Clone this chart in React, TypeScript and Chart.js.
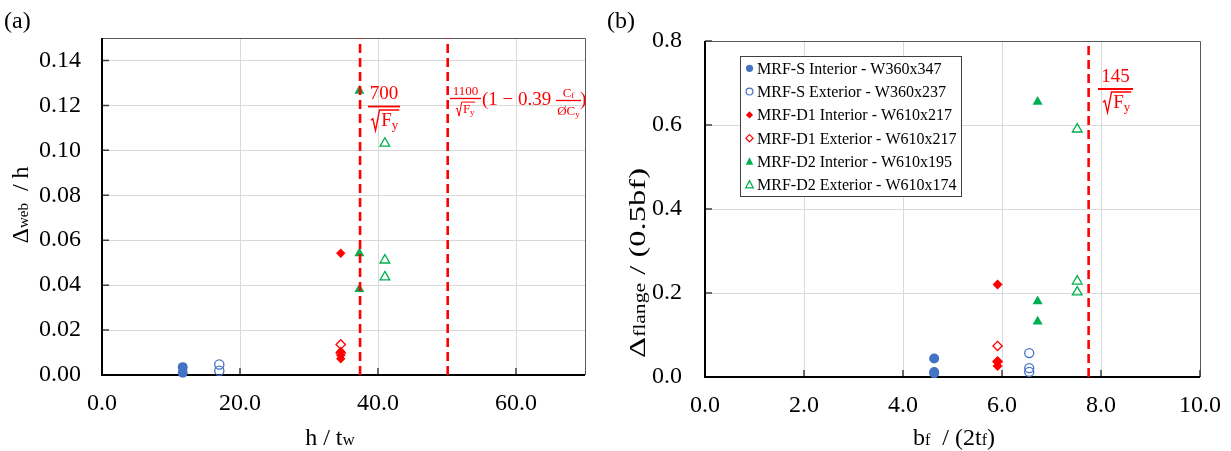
import React, { useEffect, useRef } from "react";
import { Chart, registerables } from "chart.js";

Chart.register(...registerables);

const FONT = '"Liberation Serif", "Times New Roman", serif';
const BLUE = "#4472C4";
const RED = "#FF0000";
const GREEN = "#00B050";

const seriesLabels = [
  "MRF-S Interior - W360x347",
  "MRF-S Exterior - W360x237",
  "MRF-D1 Interior - W610x217",
  "MRF-D1 Exterior - W610x217",
  "MRF-D2 Interior - W610x195",
  "MRF-D2 Exterior - W610x174",
];
const seriesColors = [BLUE, BLUE, RED, RED, GREEN, GREEN];
const seriesShapes = ["circle", "circle", "rectRot", "rectRot", "triangle", "triangle"];
const seriesFilled = [true, false, true, false, true, false];

// ---- (a) web: h/tw vs Δweb/h ----
const aSIntX = [11.7, 11.7];
const aSIntY = [0.0035, 0.001];
const aSExtX = [17.0, 17.0];
const aSExtY = [0.0047, 0.0019];
const aD1IntX = [34.6, 34.6, 34.6, 34.6];
const aD1IntY = [0.0542, 0.0105, 0.0088, 0.0072];
const aD1ExtX = [34.6, 34.6];
const aD1ExtY = [0.0136, 0.0098];
const aD2IntX = [37.3, 37.3, 37.3];
const aD2IntY = [0.1265, 0.0542, 0.0382];
const aD2ExtX = [41.0, 41.0, 41.0];
const aD2ExtY = [0.1031, 0.0511, 0.0436];
const aLimits = [37.4, 50.1];
const aXTicks = [0, 20, 40, 60];
const aYTicks = [0, 0.02, 0.04, 0.06, 0.08, 0.1, 0.12, 0.14];

// ---- (b) flange: bf/(2tf) vs Δflange/(0.5bf) ----
const bSIntX = [4.63, 4.63, 4.63];
const bSIntY = [0.044, 0.012, 0.009];
const bSExtX = [6.55, 6.55, 6.55];
const bSExtY = [0.057, 0.021, 0.012];
const bD1IntX = [5.91, 5.91, 5.91];
const bD1IntY = [0.22, 0.037, 0.026];
const bD1ExtX = [5.91, 5.91];
const bD1ExtY = [0.074, 0.037];
const bD2IntX = [6.72, 6.72, 6.72];
const bD2IntY = [0.655, 0.18, 0.132];
const bD2ExtX = [7.52, 7.52, 7.52];
const bD2ExtY = [0.59, 0.228, 0.202];
const bLimits = [7.75];
const bXTicks = [0, 2, 4, 6, 8, 10];
const bYTicks = [0, 0.2, 0.4, 0.6, 0.8];

const zip = (xs: number[], ys: number[]) => xs.map((x, i) => ({ x, y: ys[i] }));

function markerDataset(i: number, xs: number[], ys: number[], radii: number[]) {
  const filled = seriesFilled[i];
  return {
    label: seriesLabels[i],
    data: zip(xs, ys),
    pointStyle: seriesShapes[i],
    pointRadius: radii[i],
    pointBackgroundColor: filled ? seriesColors[i] : "rgba(0,0,0,0)",
    pointBorderColor: seriesColors[i],
    pointBorderWidth: filled ? 0 : 1.3,
    showLine: false,
    clip: false,
    order: 1,
  };
}

function limitDataset(v: number, yMax: number) {
  return {
    label: "limit",
    data: [
      { x: v, y: 0 },
      { x: v, y: yMax },
    ],
    showLine: true,
    borderColor: RED,
    borderWidth: 2.6,
    borderDash: [9, 5],
    pointRadius: 0,
    clip: false,
    order: 0,
  };
}

function drawRich(
  ctx: CanvasRenderingContext2D,
  parts: [string, number, number?][],
  x: number,
  y: number,
  align: string,
  target?: number
) {
  let w = 0;
  for (const [t, s] of parts) {
    ctx.font = `${s}px ${FONT}`;
    w += ctx.measureText(t).width;
  }
  const k = target ? target / w : 1;
  ctx.save();
  ctx.translate(x, y);
  ctx.scale(k, 1);
  let cx = align === "center" ? -w / 2 : align === "right" ? -w : 0;
  ctx.textAlign = "left";
  ctx.textBaseline = "alphabetic";
  for (const [t, s, dy] of parts) {
    ctx.font = `${s}px ${FONT}`;
    ctx.fillText(t, cx, dy || 0);
    cx += ctx.measureText(t).width;
  }
  ctx.restore();
  return w * k;
}

function sqrtFyWidth(ctx: CanvasRenderingContext2D, s: number) {
  ctx.font = `${s}px ${FONT}`;
  const wF = ctx.measureText("F").width;
  ctx.font = `${Math.round(s * 0.7)}px ${FONT}`;
  const wy = ctx.measureText("y").width;
  return s * 0.5 + s * 0.05 + wF + wy + s * 0.05;
}

function drawSqrtFy(ctx: CanvasRenderingContext2D, cx: number, base: number, s: number) {
  const total = sqrtFyWidth(ctx, s);
  const x = cx - total / 2;
  const rw = s * 0.5;
  ctx.font = `${s}px ${FONT}`;
  const wF = ctx.measureText("F").width;
  const top = base - s * 0.84;
  ctx.lineWidth = Math.max(1, s / 14);
  ctx.beginPath();
  ctx.moveTo(x, base - s * 0.3);
  ctx.lineTo(x + rw * 0.22, base - s * 0.38);
  ctx.lineTo(x + rw * 0.5, base + s * 0.24);
  ctx.lineTo(x + rw * 0.92, top);
  ctx.lineTo(x + total, top);
  ctx.stroke();
  ctx.font = `${s}px ${FONT}`;
  ctx.fillText("F", x + rw + s * 0.05, base);
  ctx.font = `${Math.round(s * 0.7)}px ${FONT}`;
  ctx.fillText("y", x + rw + s * 0.05 + wF, base + s * 0.16);
}

function hline(ctx: CanvasRenderingContext2D, x1: number, x2: number, y: number, w: number) {
  ctx.lineWidth = w;
  ctx.beginPath();
  ctx.moveTo(x1, y);
  ctx.lineTo(x2, y);
  ctx.stroke();
}

function drawMarker(ctx: CanvasRenderingContext2D, shape: string, x: number, y: number, r: number, color: string, filled: boolean) {
  ctx.beginPath();
  if (shape === "circle") {
    ctx.arc(x, y, r, 0, Math.PI * 2);
  } else if (shape === "rectRot") {
    ctx.moveTo(x, y - r);
    ctx.lineTo(x + r, y);
    ctx.lineTo(x, y + r);
    ctx.lineTo(x - r, y);
    ctx.closePath();
  } else {
    const h = r * 1.5;
    ctx.moveTo(x, y - h / 2 - 1);
    ctx.lineTo(x + r * 0.9, y + h / 2);
    ctx.lineTo(x - r * 0.9, y + h / 2);
    ctx.closePath();
  }
  if (filled) {
    ctx.fillStyle = color;
    ctx.fill();
  } else {
    ctx.strokeStyle = color;
    ctx.lineWidth = 1.2;
    ctx.stroke();
  }
}

const framePlugin = {
  id: "frame",
  beforeDatasetsDraw(chart: any) {
    const { ctx, chartArea: a, scales } = chart;
    ctx.save();
    ctx.strokeStyle = "#595959";
    ctx.lineWidth = 1;
    ctx.beginPath();
    ctx.moveTo(a.left, a.top + 0.5);
    ctx.lineTo(a.right + 0.5, a.top + 0.5);
    ctx.lineTo(a.right + 0.5, a.bottom);
    ctx.stroke();
    ctx.strokeStyle = "#404040";
    ctx.lineWidth = 1.5;
    ctx.beginPath();
    scales.y.ticks.forEach((t: any) => {
      const y = scales.y.getPixelForValue(t.value);
      ctx.moveTo(a.left, y);
      ctx.lineTo(a.left + 7, y);
    });
    scales.x.ticks.forEach((t: any) => {
      const x = scales.x.getPixelForValue(t.value);
      ctx.moveTo(x, a.bottom);
      ctx.lineTo(x, a.bottom - 7);
    });
    ctx.stroke();
    ctx.strokeStyle = "#000";
    ctx.lineWidth = 2;
    ctx.beginPath();
    ctx.moveTo(a.left, a.top);
    ctx.lineTo(a.left, a.bottom);
    ctx.lineTo(a.right, a.bottom);
    ctx.stroke();
    ctx.restore();
  },
};

function axisCfg(ticksArr: number[], min: number, max: number, decimals: number, isX: boolean, pad: number, size: number) {
  return {
    type: "linear",
    min,
    max,
    afterBuildTicks: (s: any) => {
      s.ticks = ticksArr.map((v) => ({ value: v }));
    },
    ticks: {
      callback: (v: any) => Number(v).toFixed(decimals),
      font: { family: FONT, size: 24 },
      color: "#000",
      padding: pad,
      maxRotation: 0,
      autoSkip: false,
    },
    grid: { color: "#d9d9d9", lineWidth: 1, drawTicks: false },
    border: { display: false },
    afterFit: (s: any) => {
      if (isX) s.height = size;
      else s.width = size;
      s.paddingLeft = 0;
      s.paddingRight = 0;
      s.paddingTop = 0;
      s.paddingBottom = 0;
    },
  };
}

function configA() {
  const radii = [5, 4.6, 4.7, 4.7, 5.8, 5.6];
  const textPlugin = {
    id: "textA",
    afterDatasetsDraw(chart: any) {
      const { ctx } = chart;
      ctx.save();
      ctx.fillStyle = "#000";
      drawRich(ctx, [["(a)", 24]], 4, 28, "left");
      drawRich(ctx, [["h / t", 24], ["w", 17]], 330, 445, "center");
      ctx.translate(28, 205);
      ctx.rotate(-Math.PI / 2);
      drawRich(ctx, [["Δ", 24], ["web", 15], ["  / h", 24]], 0, 0, "center");
      ctx.restore();

      ctx.save();
      ctx.fillStyle = RED;
      ctx.strokeStyle = RED;
      // 700 / sqrt(Fy)
      drawRich(ctx, [["700", 19]], 384, 99, "center");
      hline(ctx, 368, 400, 106.5, 1.8);
      drawSqrtFy(ctx, 385, 126, 19);
      // 1100/sqrt(Fy) (1 - 0.39 Cf/φCy)
      drawRich(ctx, [["1100", 13]], 465.5, 95, "center");
      hline(ctx, 450, 481, 98.5, 1.3);
      drawSqrtFy(ctx, 465.5, 113, 13);
      drawRich(ctx, [["(1 − 0.39", 19]], 482, 105, "left");
      drawRich(ctx, [["C", 13], ["f", 9, 1]], 568.5, 97, "center");
      hline(ctx, 556, 581, 100.5, 1.3);
      drawRich(ctx, [["ØC", 13], ["y", 9, 2]], 568.5, 115, "center");
      drawRich(ctx, [[")", 19]], 580, 105, "left");
      ctx.restore();
    },
  };
  return {
    type: "scatter",
    data: {
      datasets: [
        ...aLimits.map((v) => limitDataset(v, 0.15)),
        markerDataset(0, aSIntX, aSIntY, radii),
        markerDataset(1, aSExtX, aSExtY, radii),
        markerDataset(2, aD1IntX, aD1IntY, radii),
        markerDataset(3, aD1ExtX, aD1ExtY, radii),
        markerDataset(4, aD2IntX, aD2IntY, radii),
        markerDataset(5, aD2ExtX, aD2ExtY, radii),
      ],
    },
    options: {
      animation: false,
      responsive: false,
      devicePixelRatio: 1,
      layout: { padding: { left: 0, top: 38, right: 20, bottom: 0 } },
      plugins: { legend: { display: false }, tooltip: { enabled: false } },
      scales: {
        x: axisCfg(aXTicks, 0, 70, 1, true, 14, 76),
        y: axisCfg(aYTicks, 0, 0.15, 2, false, 21, 102),
      },
    },
    plugins: [framePlugin, textPlugin],
  };
}

function configB() {
  const radii = [5, 4.5, 5, 4.6, 5.8, 5.6];
  const textPlugin = {
    id: "textB",
    afterDatasetsDraw(chart: any) {
      const { ctx, chartArea: a } = chart;
      ctx.save();
      ctx.fillStyle = "#000";
      drawRich(ctx, [["(b)", 24]], 2, 28, "left");
      drawRich(ctx, [["b", 24], ["f", 16], ["  / (2t", 24], ["f", 16], [")", 24]], 349, 445, "center");
      ctx.save();
      ctx.translate(40, 263);
      ctx.rotate(-Math.PI / 2);
      drawRich(ctx, [["Δ", 24], ["flange", 16], [" / (0.5bf)", 24]], 0, 0, "center", 190);
      ctx.restore();
      ctx.restore();

      ctx.save();
      ctx.fillStyle = RED;
      ctx.strokeStyle = RED;
      drawRich(ctx, [["145", 19]], 510.5, 82, "center");
      hline(ctx, 493, 528, 89, 2);
      drawSqrtFy(ctx, 512, 108, 19);
      ctx.restore();

      // legend
      ctx.save();
      const x0 = a.left + 35;
      const y0 = a.top + 15;
      const w = 221;
      const h = 140;
      ctx.fillStyle = "#fff";
      ctx.fillRect(x0, y0, w, h);
      ctx.strokeStyle = "#404040";
      ctx.lineWidth = 1;
      ctx.strokeRect(x0 + 0.5, y0 + 0.5, w, h);
      const lr = [3.6, 3.4, 3.6, 3.6, 4.2, 4.2];
      seriesLabels.forEach((lab, i) => {
        const cy = y0 + 12.3 + i * 23.3;
        drawMarker(ctx, seriesShapes[i], x0 + 9.5, cy, lr[i], seriesColors[i], seriesFilled[i]);
        ctx.fillStyle = "#000";
        drawRich(ctx, [[lab, 16]], x0 + 17, cy + 5.5, "left");
      });
      ctx.restore();
    },
  };
  return {
    type: "scatter",
    data: {
      datasets: [
        ...bLimits.map((v) => limitDataset(v, 0.8)),
        markerDataset(0, bSIntX, bSIntY, radii),
        markerDataset(1, bSExtX, bSExtY, radii),
        markerDataset(2, bD1IntX, bD1IntY, radii),
        markerDataset(3, bD1ExtX, bD1ExtY, radii),
        markerDataset(4, bD2IntX, bD2IntY, radii),
        markerDataset(5, bD2ExtX, bD2ExtY, radii),
      ],
    },
    options: {
      animation: false,
      responsive: false,
      devicePixelRatio: 1,
      layout: { padding: { left: 0, top: 41, right: 31, bottom: 0 } },
      plugins: { legend: { display: false }, tooltip: { enabled: false } },
      scales: {
        x: axisCfg(bXTicks, 0, 10, 1, true, 14, 74),
        y: axisCfg(bYTicks, 0, 0.8, 1, false, 23, 100),
      },
    },
    plugins: [framePlugin, textPlugin],
  };
}

function ChartCanvas({ make, left, width }: { make: () => any; left: number; width: number }) {
  const ref = useRef<HTMLCanvasElement>(null);
  useEffect(() => {
    const chart = new Chart(ref.current as HTMLCanvasElement, make());
    return () => chart.destroy();
  }, []);
  return (
    <canvas
      ref={ref}
      width={width}
      height={451}
      style={{ position: "absolute", left, top: 0, width, height: 451, display: "block" }}
    />
  );
}

export default function App() {
  return (
    <div style={{ position: "absolute", left: 0, top: 0, width: 1231, height: 451, background: "#fff" }}>
      <ChartCanvas make={configA} left={0} width={605} />
      <ChartCanvas make={configB} left={605} width={626} />
    </div>
  );
}
